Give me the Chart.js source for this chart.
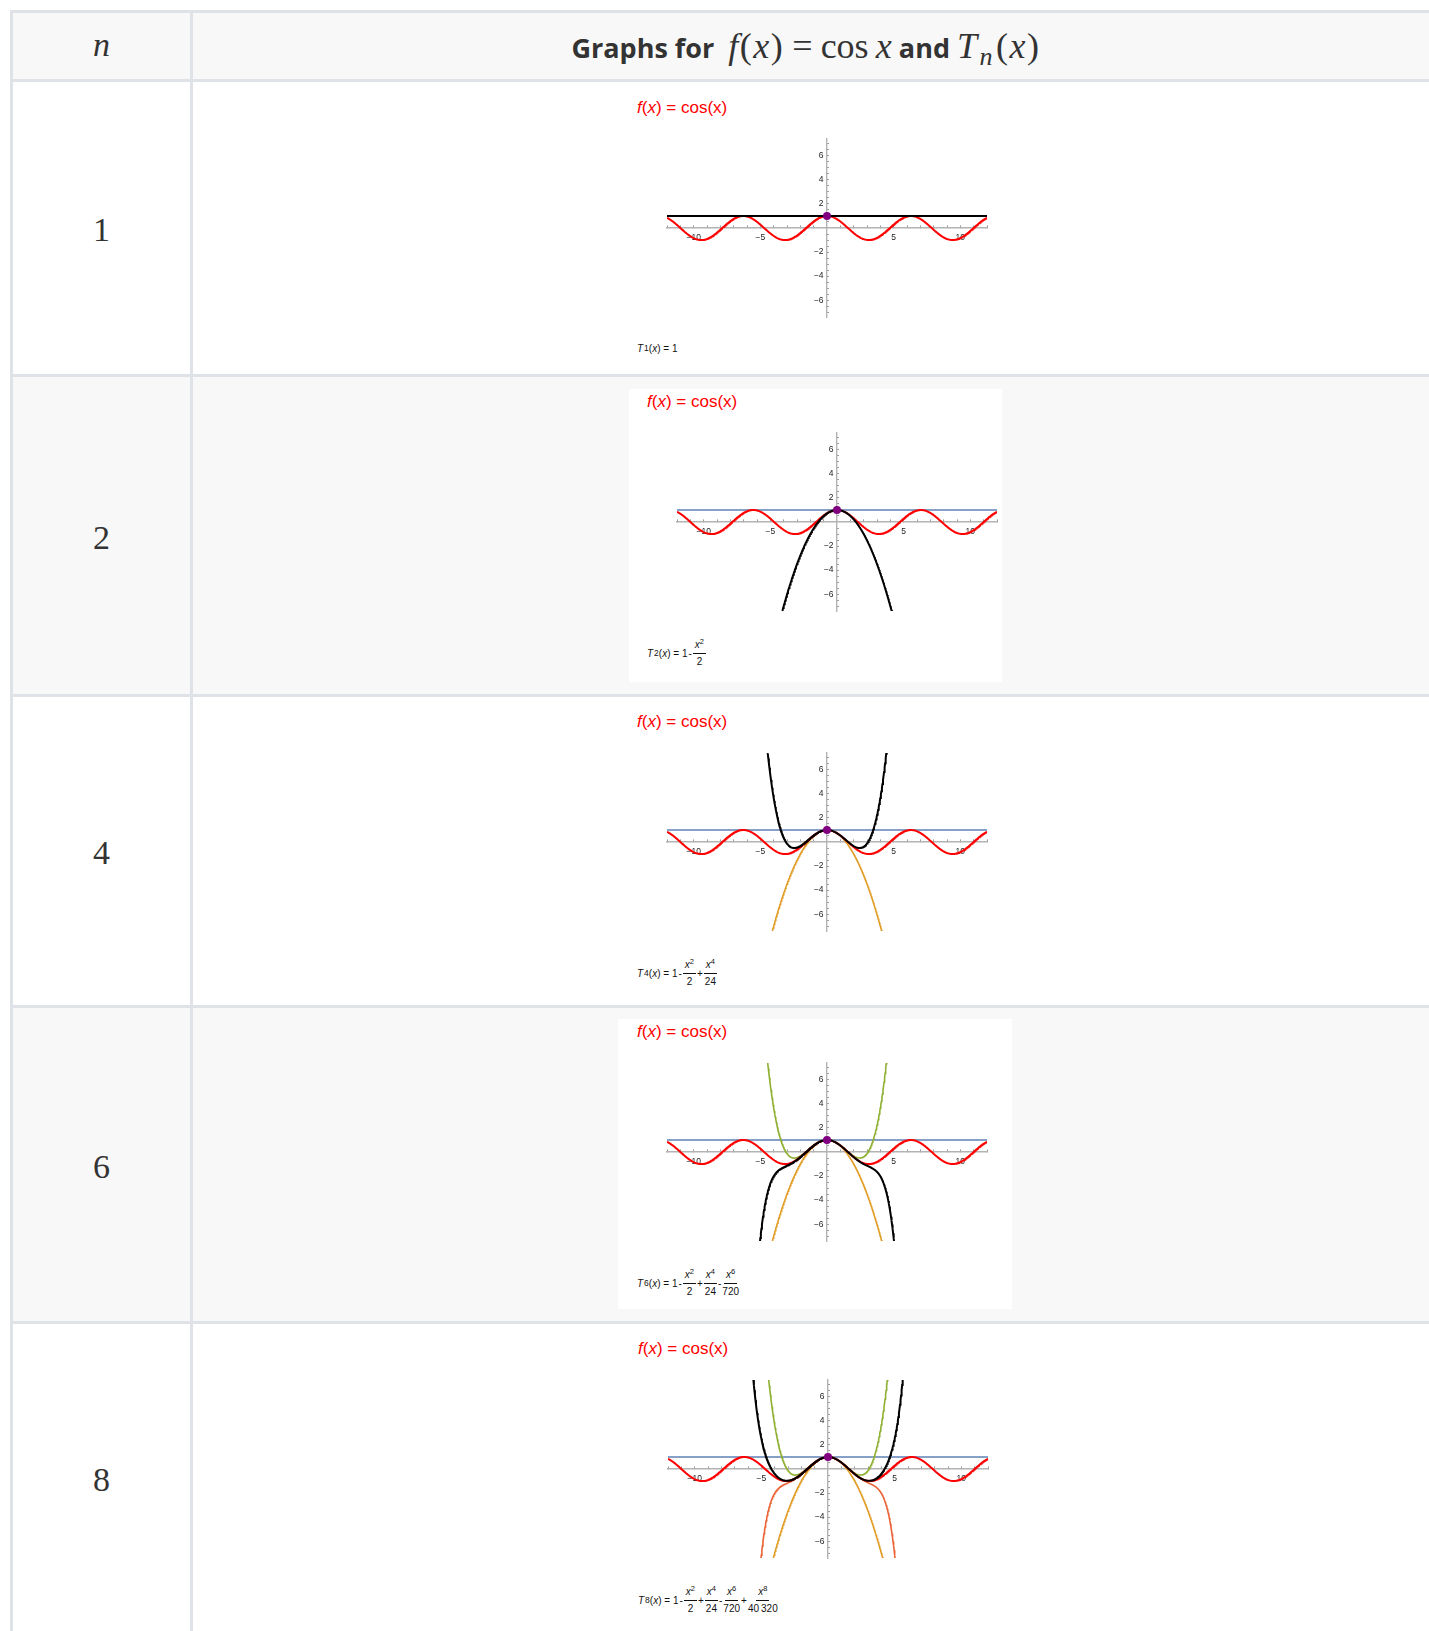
<!DOCTYPE html>
<html>
<head>
<meta charset="utf-8">
<script src="https://cdn.jsdelivr.net/npm/chart.js@4.4.0/dist/chart.umd.min.js"></script>
<style>
body { margin:0; background:#fff; width:1429px; height:1631px; overflow:hidden; position:relative; font-family:"Open Sans", sans-serif; }
.rule { position:absolute; background:#dfe2e6; }
.band { position:absolute; left:13px; width:1416px; }
.num { position:absolute; left:13px; width:177px; text-align:center; font-family:"Liberation Serif", serif; font-size:34px; line-height:34px; color:#333; }
.head { position:absolute; left:193px; width:1226px; top:24px; text-align:center; font-size:27px; line-height:44px; color:#333; white-space:nowrap; }
.head b { font-weight:700; }
.head .m { font-family:"Liberation Serif", serif; font-size:36px; font-weight:400; }
.head .ls { letter-spacing:1.5px; }
.head .eq { margin:0 8px; }
.head .m sub { font-size:26px; vertical-align:-7px; line-height:0; margin:0 2px 0 1px; }
.imgbox { position:absolute; background:#fff; }
.flabel { position:absolute; color:#f00; font-family:"Liberation Sans", Arial, sans-serif; font-size:17px; line-height:18px; white-space:nowrap; }
.tlabel { position:absolute; font-family:"Liberation Sans", Arial, sans-serif; font-size:10px; color:#111; display:flex; align-items:center; white-space:nowrap; }
.tlabel sub { font-size:8.5px; vertical-align:-3px; line-height:0; margin-left:1px; }
.tlabel sup { font-size:7.5px; vertical-align:4px; line-height:0; }
.sign { margin:0 1px; }
.frac { display:inline-flex; flex-direction:column; align-items:center; }
.frac .nu { border-bottom:1px solid #111; padding:0 2px 2px 2px; line-height:12px; }
.frac .de { line-height:12px; padding-top:2px; }
canvas { position:absolute; }
</style>
</head>
<body>
<div id="page"></div>
<script>
// values shown in the picture
const rowN = [1, 2, 4, 6, 8];
const termPowers = [0, 2, 4, 6, 8];
const termSigns = [1, -1, 1, -1, 1];
const termDenoms = [1, 2, 24, 720, 40320];
const xMajorTicks = [-10, -5, 5, 10];
const yMajorTicks = [-6, -4, -2, 2, 4, 6];
const xRange = [-12, 12];
const yRange = [-7.4, 7.4];
const touchPoint = { x: 0, y: 1 };

// earlier polynomials keep these colours, the current one is black
const oldColors = ["#5e81b5", "#e19c24", "#8fb032", "#eb6235"];

// page layout
const rowTops = [82, 377, 697, 1008, 1324];
const rowHeights = [292, 317, 308, 313, 307];
const rowBg = ["#fff", "#f8f8f8", "#fff", "#f8f8f8", "#fff"];
const axisYs = [228, 522, 842, 1152, 1469];
const zeroXs = [827, 837, 827, 827, 828];
const tOffsets = [120, 131, 131, 131, 131];
const imgBoxes = [null, [629, 389, 373, 293], null, [618, 1019, 394, 290], null];
const ruleTops = [10, 79, 374, 694, 1005, 1321];

const page = document.getElementById("page");
function add(html) { page.insertAdjacentHTML("beforeend", html); }

// table
add('<div class="band" style="top:13px;height:66px;background:#f8f8f8"></div>');
for (let i = 0; i < rowTops.length; i++) {
  add(`<div class="band" style="top:${rowTops[i]}px;height:${rowHeights[i]}px;background:${rowBg[i]}"></div>`);
}
for (const t of ruleTops) add(`<div class="rule" style="left:10px;width:1419px;top:${t}px;height:3px"></div>`);
add('<div class="rule" style="left:10px;width:3px;top:10px;height:1621px"></div>');
add('<div class="rule" style="left:190px;width:3px;top:10px;height:1621px"></div>');

add('<div class="num" style="top:28px"><i>n</i></div>');
add('<div class="head"><b>Graphs for</b>&nbsp; <span class="m"><span class="ls"><i>f</i>(<i>x</i>)</span><span class="eq">=</span>cos&thinsp;<i>x</i></span> <b>and</b> <span class="m ls"><i>T</i><sub><i>n</i></sub>(<i>x</i>)</span></div>');

function fracHtml(k) {
  let s = "1";
  for (let i = 1; i <= k; i++) {
    const d = String(termDenoms[i]).replace(/(\d)(\d{3})$/, "$1\u2009$2");
    s += `<span class="sign">${termSigns[i] < 0 ? "-" : "+"}</span><span class="frac"><span class="nu"><i>x</i><sup>${termPowers[i]}</sup></span><span class="de">${d}</span></span>`;
  }
  return s;
}

function taylor(k, x) {
  let s = 0;
  for (let i = 0; i <= k; i++) s += termSigns[i] * Math.pow(x, termPowers[i]) / termDenoms[i];
  return s;
}

const xs = [];
for (let i = 0; i <= 600; i++) xs.push(xRange[0] + i * (xRange[1] - xRange[0]) / 600);

const fmt = v => (v < 0 ? "\u2212" + Math.abs(v) : String(v));
const xAllTicks = [];
for (let v = -12; v <= 12; v++) if (v !== 0) xAllTicks.push(v);
const yAllTicks = [];
for (let v = -7; v <= 7; v += 0.5) if (v !== 0) yAllTicks.push(v);

const PAD = 12;
const plotW = 320, plotH = 178;
const tickFont = { family: "Liberation Sans", size: 8.5 };

rowN.forEach((n, r) => {
  const ax = axisYs[r], zx = zeroXs[r];
  if (imgBoxes[r]) {
    const b = imgBoxes[r];
    add(`<div class="imgbox" style="left:${b[0]}px;top:${b[1]}px;width:${b[2]}px;height:${b[3]}px"></div>`);
  }
  add(`<div class="num" style="top:${rowTops[r] + rowHeights[r] / 2 - 15}px">${n}</div>`);
  add(`<div class="flabel" style="left:${zx - 190}px;top:${ax - 129}px"><i>f</i>(<i>x</i>) = cos(x)</div>`);
  const k = Math.floor(n / 2);
  add(`<div class="tlabel" style="left:${zx - 190}px;top:${ax + tOffsets[r] - 20}px;height:40px"><i>T</i><sub>${n}</sub>(<i>x</i>)&nbsp;=&nbsp;${fracHtml(k)}</div>`);

  const cv = document.createElement("canvas");
  cv.width = plotW + 2 * PAD;
  cv.height = plotH + 2 * PAD;
  cv.style.left = (zx - plotW / 2 - PAD) + "px";
  cv.style.top = (ax - plotH / 2 - PAD) + "px";
  page.appendChild(cv);

  const datasets = [];
  datasets.push({ data: [touchPoint], showLine: false, pointRadius: 4, pointBackgroundColor: "#800080", pointBorderWidth: 0 });
  datasets.push({ data: xs.map(x => ({ x, y: taylor(k, x) })), borderColor: "#000", borderWidth: 2, pointRadius: 0 });
  datasets.push({ data: xs.map(x => ({ x, y: Math.cos(x) })), borderColor: "#ff0000", borderWidth: 2, pointRadius: 0 });
  for (let j = k - 1; j >= 0; j--) {
    datasets.push({ data: xs.map(x => ({ x, y: taylor(j, x) })), borderColor: oldColors[j], borderWidth: 1.6, pointRadius: 0 });
  }

  new Chart(cv, {
    type: "line",
    data: { datasets },
    options: {
      responsive: false,
      animation: false,
      devicePixelRatio: 1,
      layout: { padding: PAD },
      plugins: { legend: { display: false }, tooltip: { enabled: false } },
      elements: { line: { tension: 0 } },
      scales: {
        x: {
          type: "linear", min: xRange[0], max: xRange[1], position: { y: 0 },
          afterFit: s => { s.height = 0; },
          afterBuildTicks: s => { s.ticks = xAllTicks.map(v => ({ value: v })); },
          // negative length: ticks point up into the plot like the original
          grid: { drawOnChartArea: false, tickLength: -3, tickColor: "#999" },
          border: { color: "#b3b3b3", width: 1.4 },
          ticks: { autoSkip: false, maxRotation: 0, padding: 8, color: "#222", font: tickFont,
            callback: v => (xMajorTicks.includes(v) ? fmt(v) : "") }
        },
        y: {
          type: "linear", min: yRange[0], max: yRange[1], position: { x: 0 },
          afterFit: s => { s.width = 0; },
          afterBuildTicks: s => { s.ticks = yAllTicks.map(v => ({ value: v })); },
          grid: { drawOnChartArea: false, tickLength: -3, tickColor: "#999" },
          border: { color: "#b3b3b3", width: 1.4 },
          ticks: { autoSkip: false, padding: 1, color: "#222", font: tickFont,
            callback: v => (yMajorTicks.includes(v) ? fmt(v) + "\u2009\u2009" : "") }
        }
      }
    }
  });
});
</script>
</body>
</html>
